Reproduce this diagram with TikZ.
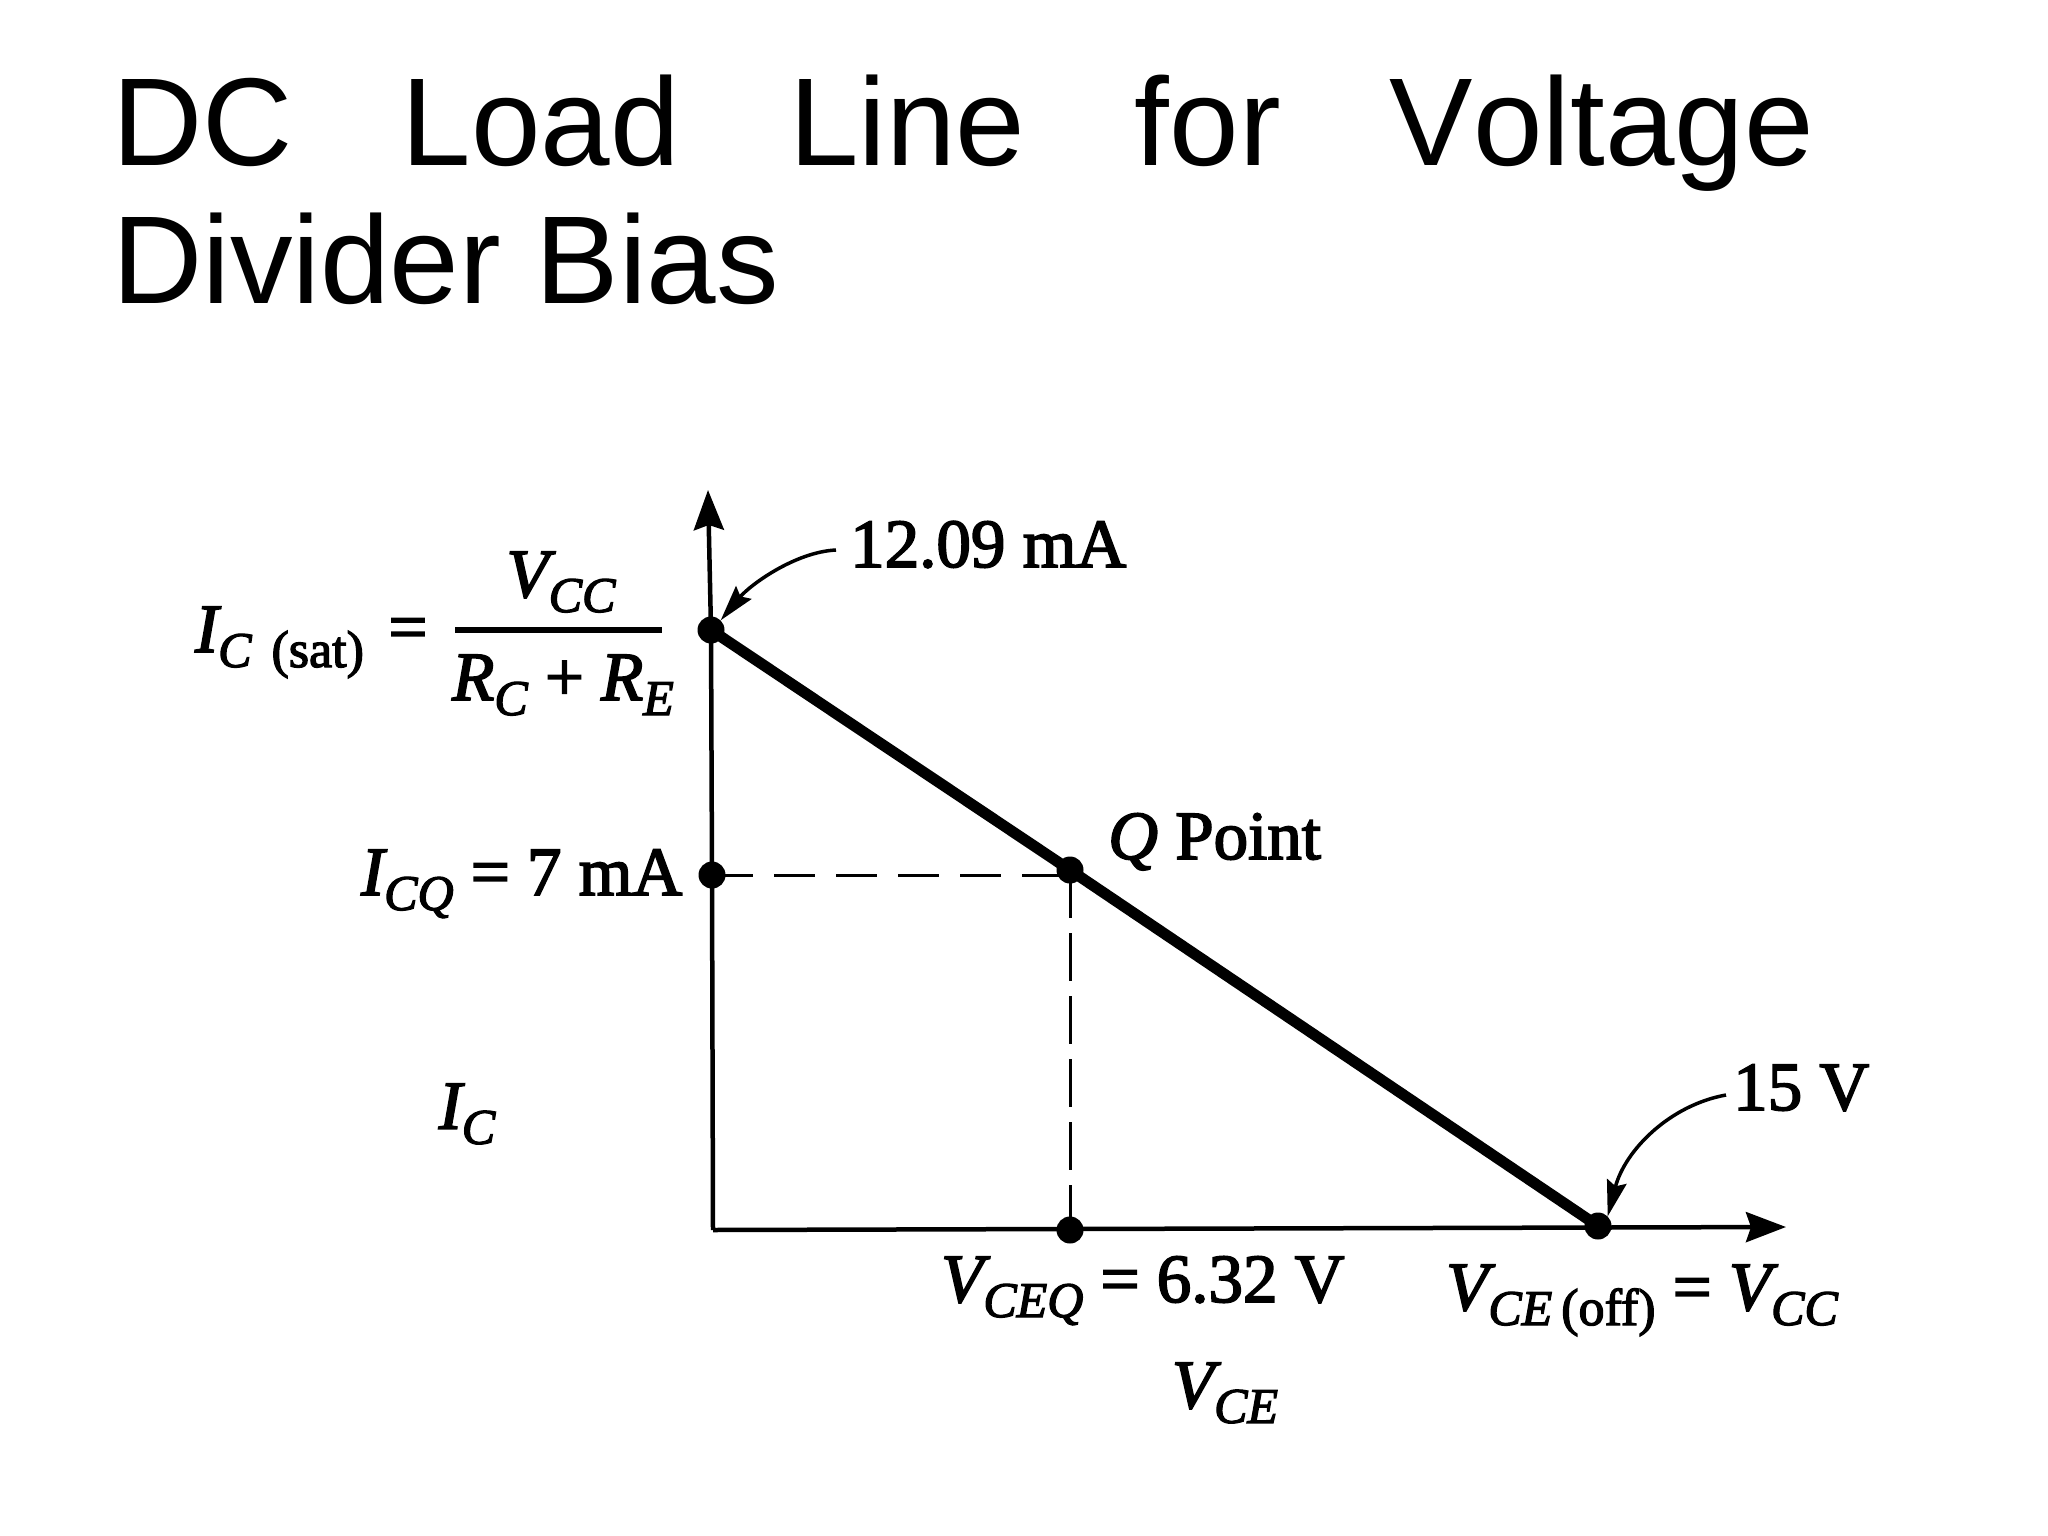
\documentclass[tikz,border=0pt]{standalone}
\usepackage{fontspec}
\setmainfont{Liberation Serif}[FakeBold=2.5]
\newfontfamily\titlefont{Liberation Sans}[Kerning=Off]
\usetikzlibrary{arrows.meta}
\newcommand{\lsub}[1]{\raisebox{-15pt}{\fontsize{50}{50}\selectfont\itshape #1}}
\newcommand{\usub}[1]{\raisebox{-15pt}{\fontsize{52}{52}\selectfont #1}}
\newcommand{\vv}[1]{{\itshape #1}}
\tikzset{
  lbl/.style={inner sep=0pt,font=\fontsize{69}{69}\selectfont},
  blob/.style={circle,fill=black,inner sep=0pt,minimum size=27pt},
  axisline/.style={line width=4.5pt,black},
  axisarrow/.style={axisline,-{Stealth[length=40pt,width=30pt,inset=5pt]}},
  loadline/.style={line width=11pt,black},
  hguide/.style={line width=3pt,black,dash pattern=on 41pt off 21pt},
  vguide/.style={line width=3pt,black,dash pattern=on 48pt off 15pt},
  callout/.style={line width=3.5pt,black,-{Stealth[length=36pt,width=20pt,inset=5pt]}},
}
\begin{document}
\begin{tikzpicture}[x=1pt,y=-1pt]
\useasboundingbox (0,0) rectangle (2048,1536);
\fill[white] (0,0) rectangle (2048,1536);
\node[anchor=north west,inner sep=0pt,text width=1702pt,align=justify,font=\titlefont\fontsize{125}{138}\selectfont] (title) at (112,75) {DC Load Line for Voltage\linebreak Divider Bias};
% points
\coordinate (org) at (713,1230);
\coordinate (ytip) at (708,490);
\coordinate (xtip) at (1786,1227);
\node[blob] (sat) at (711,630) {};
\node[blob] (icq) at (712,875) {};
\node[blob] (q) at (1070,870) {};
\node[blob] (vq) at (1070,1230) {};
\node[blob] (off) at (1598,1226) {};
% lines
\draw[axisline] (org) -- (icq.center) -- (sat.center);
\draw[axisarrow] (sat.center) -- (ytip);
\draw[axisarrow] (org) -- (xtip);
\draw[loadline] (sat.center) -- (q.center) -- (off.center);
\draw[hguide] (icq.center) -- (icq.center -| q.center);
\draw[vguide] (q.center) -- (vq.center);
% labels
\node[lbl,anchor=base west] (t1209) at (850,567) {12.09 mA};
\node[lbl,anchor=base] (vcc) at (561,597) {\vv{V}\lsub{CC}};
\node[lbl,anchor=base] (rcre) at (563,700) {\vv{R}\lsub{C} + \vv{R}\lsub{E}};
\node[lbl,anchor=base west] (icsat) at (195,652) {\vv{I}\lsub{C}\hspace{20pt}\usub{(sat)}};
\node[lbl,anchor=base] (icsateq) at (408,650) {=};
\node[lbl,anchor=base west] (icqt) at (361,895) {\vv{I}\lsub{CQ} = 7 mA};
\node[lbl,anchor=base west] (qpt) at (1108,859) {\vv{Q} Point};
\node[lbl,anchor=center] (ic) at (467,1114) {\vv{I}\lsub{C}};
\node[lbl,anchor=base west] (vceq) at (941,1302) {\vv{V}\lsub{CEQ} = 6.32 V};
\node[lbl,anchor=base west] (vceoff) at (1446,1310) {\vv{V}\lsub{CE}\hspace{9pt}\usub{(off)} = \vv{V}\lsub{CC}};
\node[lbl,anchor=center] (vce) at (1225,1393) {\vv{V}\lsub{CE}};
\node[lbl,anchor=base west] (t15) at (1733,1110) {15 V};
% fraction bar
\coordinate (barl) at (455,630);
\coordinate (barr) at (662,630);
\draw[line width=6pt] (barl) -- (barr);
% callouts
\coordinate (c1) at (836,550);
\coordinate (c2) at (1726,1095);
\draw[callout] (c1) .. controls (795,552) and (750,585) .. (sat.north east);
\draw[callout] (c2) .. controls (1670,1105) and (1625,1150) .. (off.north east);
\end{tikzpicture}
\end{document}
